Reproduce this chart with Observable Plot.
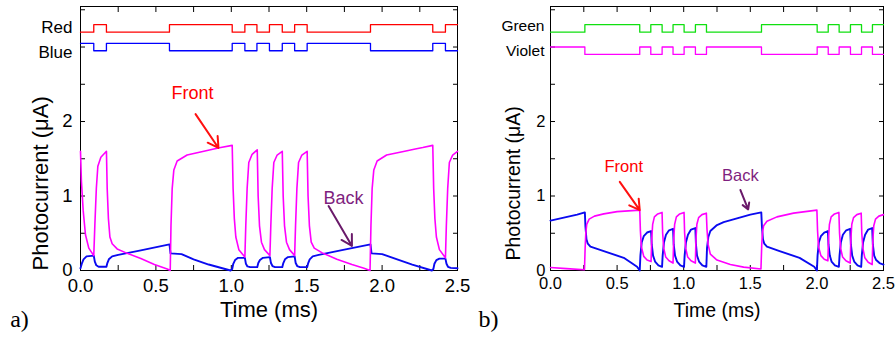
<!DOCTYPE html>
<html><head><meta charset="utf-8">
<script src="https://cdn.jsdelivr.net/npm/d3@7"></script>
<script src="https://cdn.jsdelivr.net/npm/@observablehq/plot@0.6"></script>
<style>
body{margin:0;background:#fff;}
#wrap{position:relative;width:895px;height:343px;overflow:hidden;}
#wrap svg{position:absolute;top:0;}
</style></head><body><div id="wrap"></div>
<script>
// ---------- axis ticks ----------
const timeTicks = [0,0.25,0.5,0.75,1,1.25,1.5,1.75,2,2.25,2.5];
const labeledTimes = [0,0.5,1,1.5,2,2.5];
const currentTicks = [0,0.5,1,1.5,2,2.5,3,3.5];
const labeledCurrents = [0,1,2];

// ---------- panel a: illumination states (time ms, on=1/off=0) ----------
const redA  = [[0,0],[0.088,1],[0.172,0],[0.59,1],[1.006,0],[1.09,1],[1.17,0],[1.253,1],[1.338,0],[1.42,1],[1.503,0],[1.923,1],[2.336,0],[2.42,1],[2.5,1]];
const blueA = [[0,1],[0.088,0],[0.172,1],[0.59,0],[1.006,1],[1.09,0],[1.17,1],[1.253,0],[1.338,1],[1.42,0],[1.503,1],[1.923,0],[2.336,1],[2.42,0],[2.5,0]];

// ---------- panel a: photocurrent (time ms, µA) ----------
const frontA = [[0,1.6],[0.006,1.2],[0.018,0.8],[0.033,0.48],[0.055,0.3],[0.088,0.2],
[0.095,0.6],[0.105,1.1],[0.115,1.4],[0.135,1.52],[0.172,1.6],
[0.177,1.1],[0.185,0.7],[0.195,0.45],[0.21,0.36],[0.243,0.29],[0.31,0.23],[0.4,0.16],[0.49,0.08],[0.575,0.02],[0.595,0.0],
[0.6,0.6],[0.608,1.1],[0.619,1.35],[0.641,1.47],[0.707,1.55],[0.818,1.6],[0.884,1.63],[0.93,1.65],[1.006,1.68],
[1.012,1.1],[1.02,0.7],[1.03,0.45],[1.05,0.28],[1.09,0.18],
[1.096,0.6],[1.105,1.1],[1.116,1.45],[1.138,1.56],[1.172,1.62],
[1.178,1.0],[1.187,0.6],[1.2,0.38],[1.22,0.28],[1.256,0.2],
[1.262,0.6],[1.271,1.1],[1.282,1.45],[1.304,1.55],[1.338,1.6],
[1.344,1.0],[1.353,0.6],[1.366,0.38],[1.386,0.28],[1.42,0.2],
[1.426,0.6],[1.435,1.1],[1.446,1.45],[1.468,1.55],[1.503,1.6],
[1.509,1.0],[1.518,0.6],[1.53,0.38],[1.55,0.3],[1.6,0.24],[1.7,0.15],[1.8,0.08],[1.88,0.03],[1.92,0.0],
[1.926,0.6],[1.934,1.1],[1.945,1.35],[1.967,1.47],[2.03,1.55],[2.15,1.6],[2.22,1.63],[2.27,1.65],[2.336,1.68],
[2.342,1.1],[2.35,0.7],[2.36,0.45],[2.38,0.28],[2.42,0.17],
[2.426,0.6],[2.435,1.1],[2.446,1.45],[2.468,1.55],[2.5,1.6]];
const backA = [[0,0.03],[0.01,0.1],[0.02,0.15],[0.04,0.19],[0.088,0.2],
[0.095,0.12],[0.105,0.07],[0.12,0.05],[0.172,0.05],
[0.178,0.1],[0.188,0.15],[0.21,0.19],[0.25,0.21],[0.4,0.27],[0.59,0.35],
[0.597,0.23],[0.67,0.22],[0.75,0.15],[0.85,0.08],[0.995,0.0],
[1.006,0.02],[1.013,0.09],[1.025,0.14],[1.045,0.17],[1.09,0.17],
[1.097,0.09],[1.107,0.055],[1.125,0.045],[1.172,0.045],
[1.179,0.1],[1.19,0.14],[1.21,0.17],[1.256,0.18],
[1.263,0.1],[1.273,0.06],[1.29,0.045],[1.338,0.045],
[1.345,0.1],[1.356,0.15],[1.376,0.18],[1.42,0.19],
[1.427,0.1],[1.437,0.06],[1.455,0.045],[1.503,0.045],
[1.51,0.1],[1.52,0.15],[1.54,0.19],[1.58,0.21],[1.75,0.28],[1.923,0.35],
[1.93,0.23],[2.0,0.22],[2.1,0.15],[2.2,0.08],[2.33,0.0],
[2.34,0.02],[2.347,0.09],[2.36,0.14],[2.38,0.16],[2.42,0.16],
[2.427,0.09],[2.437,0.05],[2.455,0.035],[2.5,0.03]];

// ---------- panel b: illumination states ----------
const greenB  = [[0,0],[0.258,1],[0.67,0],[0.753,1],[0.838,0],[0.92,1],[1.003,0],[1.088,1],[1.171,0],[1.584,1],[2.002,0],[2.085,1],[2.167,0],[2.252,1],[2.335,0],[2.417,1],[2.5,1]];
const violetB = [[0,1],[0.258,0],[0.67,1],[0.753,0],[0.838,1],[0.92,0],[1.003,1],[1.088,0],[1.171,1],[1.584,0],[2.002,1],[2.085,0],[2.167,1],[2.252,0],[2.335,1],[2.417,0],[2.5,0]];

// ---------- panel b: photocurrent ----------
const frontB = [[0,0.04],[0.12,0.025],[0.255,0.01],
[0.26,0.3],[0.265,0.5],[0.272,0.62],[0.29,0.69],[0.33,0.73],[0.4,0.76],[0.5,0.79],[0.67,0.81],
[0.675,0.53],[0.682,0.32],[0.7,0.19],[0.725,0.14],[0.755,0.12],
[0.76,0.42],[0.767,0.62],[0.78,0.72],[0.805,0.76],[0.8375,0.78],
[0.842,0.5],[0.85,0.3],[0.865,0.18],[0.89,0.13],[0.92,0.1],
[0.925,0.42],[0.932,0.62],[0.945,0.72],[0.97,0.76],[1.0025,0.78],
[1.007,0.5],[1.015,0.3],[1.03,0.18],[1.055,0.13],[1.0875,0.1],
[1.092,0.42],[1.099,0.62],[1.112,0.71],[1.137,0.75],[1.17,0.77],
[1.175,0.55],[1.183,0.35],[1.2,0.22],[1.25,0.14],[1.35,0.08],[1.45,0.045],[1.58,0.02],
[1.586,0.35],[1.592,0.52],[1.6,0.6],[1.625,0.66],[1.7,0.72],[1.825,0.77],[2.0,0.81],
[2.005,0.53],[2.012,0.32],[2.03,0.2],[2.055,0.15],[2.0825,0.13],
[2.087,0.42],[2.094,0.62],[2.107,0.72],[2.132,0.76],[2.165,0.78],
[2.17,0.5],[2.178,0.3],[2.193,0.18],[2.218,0.13],[2.25,0.1],
[2.255,0.42],[2.262,0.62],[2.275,0.71],[2.3,0.75],[2.3325,0.77],
[2.337,0.5],[2.345,0.3],[2.36,0.17],[2.385,0.11],[2.415,0.08],
[2.42,0.4],[2.427,0.6],[2.44,0.69],[2.465,0.73],[2.5,0.75]];
const backB = [[0,0.67],[0.1,0.71],[0.2,0.75],[0.258,0.78],
[0.262,0.6],[0.27,0.42],[0.28,0.36],[0.3,0.32],[0.4,0.26],[0.55,0.17],[0.65,0.05],[0.67,0.0],
[0.675,0.2],[0.685,0.38],[0.7,0.46],[0.725,0.51],[0.755,0.53],
[0.76,0.35],[0.77,0.2],[0.785,0.12],[0.81,0.07],[0.8375,0.05],
[0.842,0.2],[0.852,0.38],[0.867,0.48],[0.89,0.54],[0.92,0.56],
[0.925,0.35],[0.935,0.2],[0.95,0.12],[0.975,0.07],[1.0025,0.05],
[1.007,0.2],[1.017,0.38],[1.032,0.48],[1.055,0.55],[1.0875,0.57],
[1.092,0.35],[1.1,0.2],[1.115,0.12],[1.14,0.07],[1.17,0.05],
[1.175,0.3],[1.185,0.45],[1.2,0.53],[1.25,0.61],[1.3,0.65],[1.4,0.7],[1.5,0.75],[1.5825,0.78],
[1.587,0.6],[1.595,0.42],[1.605,0.36],[1.625,0.32],[1.72,0.26],[1.87,0.17],[1.98,0.05],[2.0,0.0],
[2.005,0.2],[2.015,0.38],[2.03,0.46],[2.055,0.51],[2.0825,0.53],
[2.087,0.35],[2.097,0.2],[2.11,0.12],[2.135,0.07],[2.165,0.05],
[2.17,0.2],[2.18,0.38],[2.195,0.48],[2.22,0.54],[2.25,0.56],
[2.255,0.35],[2.265,0.2],[2.28,0.12],[2.305,0.07],[2.3325,0.05],
[2.337,0.2],[2.347,0.38],[2.362,0.48],[2.385,0.55],[2.415,0.57],
[2.42,0.35],[2.43,0.2],[2.445,0.14],[2.47,0.1],[2.5,0.08]];

// ---------- labels & annotations ----------
const signalLabelsA = [{text:"Red", v:3.26},{text:"Blue", v:2.92}];
const signalLabelsB = [{text:"Green", v:3.28},{text:"Violet", v:2.95}];
const notesA = [{text:"Front", t:0.743, v:2.38},{text:"Back", t:1.744, v:0.97}];
const arrowsA = [{text:"Front", t1:0.763, v1:2.10, t2:0.915, v2:1.645},{text:"Back", t1:1.645, v1:0.865, t2:1.80, v2:0.33}];
const notesB = [{text:"Front", t:0.55, v:1.39},{text:"Back", t:1.426, v:1.27}];
const arrowsB = [{text:"Front", t1:0.52, v1:1.19, t2:0.67, v2:0.81},{text:"Back", t1:1.426, v1:1.08, t2:1.484, v2:0.82}];
const yTitle = "Photocurrent (μA)";
const xTitle = "Time (ms)";

const noteColor = {Front:"#ff0000", Back:"#7f1f7f"};
const arrowColor = {Front:"#ff1010", Back:"#6a1a6a"};
const FONT = "'Liberation Sans', Arial, sans-serif";

function panel(o){
  const tx = d=>d[0], ty = d=>d[1];
  const svg = Plot.plot({
    width:o.width, height:343, marginLeft:o.ml, marginRight:o.mr, marginTop:6, marginBottom:73,
    style:{fontFamily:FONT, fontSize:o.tick+"px", color:"#000", background:"transparent", overflow:"visible"},
    x:{domain:[0,2.5]}, y:{domain:[0,3.544]},
    marks:[
      Plot.frame({stroke:"#000", strokeWidth:1}),
      Plot.axisX(timeTicks,{anchor:"bottom", tickSize:-5, tickPadding:o.xpad, tickFormat:d=>labeledTimes.includes(d)?d.toFixed(1):"", label:null, fontSize:o.tick}),
      Plot.axisX(timeTicks,{anchor:"top", tickSize:-5, tickFormat:()=>"", label:null}),
      Plot.axisY(currentTicks,{anchor:"left", tickSize:-5, tickPadding:o.ypad, tickFormat:d=>labeledCurrents.includes(d)?String(d):"", label:null, fontSize:o.tick}),
      Plot.axisY(currentTicks,{anchor:"right", tickSize:-5, tickFormat:()=>"", label:null}),
      Plot.line(o.sig1,{x:tx, y:d=>o.s1base + d[1]*0.1, curve:"step-after", stroke:o.c1, strokeWidth:1.3}),
      Plot.line(o.sig2,{x:tx, y:d=>o.s2base + d[1]*0.1, curve:"step-after", stroke:o.c2, strokeWidth:1.3}),
      Plot.text(o.sigLabels,{frameAnchor:"left", y:"v", text:"text", textAnchor:"end", dx:-o.labGap, fontSize:o.lab}),
      Plot.line(o.back,{x:tx, y:ty, stroke:"#0a0af0", strokeWidth:1.9}),
      Plot.line(o.front,{x:tx, y:ty, stroke:"#ff00ff", strokeWidth:1.6}),
      Plot.arrow(o.arrows,{x1:"t1", y1:"v1", x2:"t2", y2:"v2", stroke:d=>arrowColor[d.text], strokeWidth:2, headLength:9}),
      Plot.text(o.notes,{x:"t", y:"v", text:"text", fill:d=>noteColor[d.text], fontSize:o.note}),
      Plot.text([yTitle],{frameAnchor:"left", y:o.ytitleV, dx:-o.ytitleDx, rotate:-90, textAnchor:"middle", fontSize:o.title}),
      Plot.text([xTitle],{frameAnchor:"bottom", dy:46, textAnchor:"middle", fontSize:o.title}),
      Plot.text([o.tag],{frameAnchor:"bottom-left", dx:o.tagDx, dy:56, textAnchor:"middle", fontSize:24, fontFamily:"'Liberation Serif', 'Times New Roman', serif"})
    ]
  });
  svg.style.left = o.left + "px";
  return svg;
}

const wrap = document.getElementById("wrap");
wrap.appendChild(panel({left:0, width:480, ml:80, mr:23, tick:18.5, xpad:13, ypad:13, title:22, lab:17, labGap:8, note:18,
  sig1:redA, sig2:blueA, c1:"#ff0000", c2:"#0000ff", s1base:3.2, s2base:2.95, sigLabels:signalLabelsA,
  front:frontA, back:backA, notes:notesA, arrows:arrowsA, ytitleV:1.17, ytitleDx:40, tag:"a)", tagDx:-61}));
wrap.appendChild(panel({left:440, width:455, ml:110, mr:12, tick:16.5, xpad:12, ypad:10, title:19.5, lab:15.5, labGap:6, note:16.5,
  sig1:greenB, sig2:violetB, c1:"#10e010", c2:"#ff00ff", s1base:3.2, s2base:2.9, sigLabels:signalLabelsB,
  front:frontB, back:backB, notes:notesB, arrows:arrowsB, ytitleV:1.17, ytitleDx:37, tag:"b)", tagDx:-62}));
</script></body></html>
